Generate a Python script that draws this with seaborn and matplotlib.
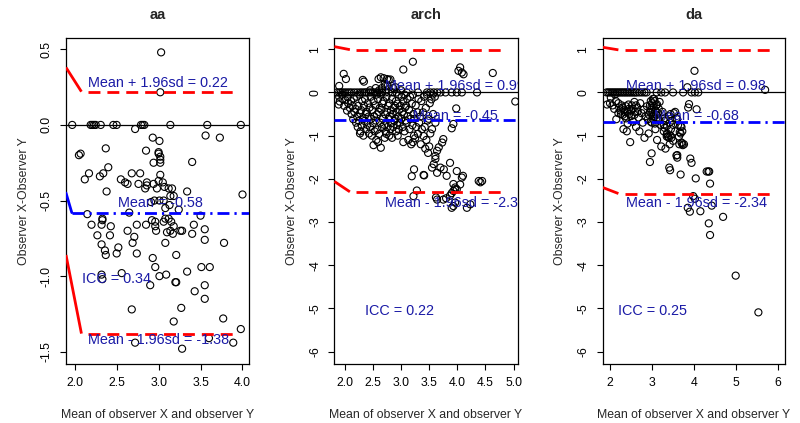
import matplotlib
matplotlib.use("Agg")
import matplotlib.pyplot as plt
import seaborn as sns
import pandas as pd

# Bland-Altman data: (mean of X and Y, X - Y)
aa_pts = [
    (1.97, 0), (2.19, 0), (2.21, 0), (2.23, 0), (2.25, 0), (2.31, 0), (2.46, 0), (2.50, 0),
    (2.79, 0), (2.81, 0), (2.83, 0), (3.14, 0), (3.58, 0), (3.98, 0),
    (3.03, 0.48), (3.02, 0.216), (2.72, -0.027), (3.56, -0.07), (3.73, -0.084), (2.93, -0.084),
    (3.01, -0.106), (2.05, -0.2), (2.07, -0.19), (2.37, -0.155), (3.0, -0.18), (3.0, -0.19),
    (3.02, -0.21), (2.94, -0.25), (3.02, -0.25), (3.02, -0.23), (3.40, -0.245), (2.85, -0.17),
    (2.17, -0.32), (2.12, -0.36), (2.30, -0.34), (2.34, -0.32), (2.40, -0.28), (2.68, -0.32),
    (2.78, -0.32), (2.55, -0.36), (2.60, -0.38), (2.63, -0.39), (2.76, -0.39), (2.86, -0.38),
    (2.86, -0.40), (2.94, -0.39), (3.0, -0.37), (3.02, -0.33), (3.05, -0.38), (3.07, -0.41),
    (3.12, -0.42), (3.16, -0.42), (2.84, -0.42), (2.98, -0.42), (2.38, -0.44), (3.34, -0.44),
    (3.14, -0.47), (3.18, -0.47), (4.0, -0.46), (2.95, -0.5), (3.01, -0.5), (3.06, -0.5),
    (2.91, -0.51), (2.15, -0.59), (3.24, -0.56), (3.13, -0.53), (3.08, -0.55), (3.5, -0.6),
    (2.65, -0.58), (2.20, -0.66), (2.33, -0.62), (2.33, -0.63), (2.32, -0.66), (2.43, -0.67),
    (2.74, -0.66), (2.85, -0.66), (2.92, -0.63), (2.96, -0.64), (2.96, -0.67), (2.97, -0.70),
    (3.08, -0.62), (3.06, -0.64), (3.12, -0.62), (3.15, -0.64), (3.18, -0.67), (2.63, -0.70),
    (2.27, -0.73), (2.42, -0.73), (2.71, -0.74), (2.69, -0.78), (2.32, -0.79), (3.17, -0.72),
    (3.14, -0.70), (3.10, -0.71), (3.26, -0.70), (3.28, -0.70), (3.42, -0.66), (3.40, -0.72),
    (3.55, -0.69), (3.55, -0.76), (3.78, -0.78), (3.08, -0.78), (2.36, -0.83), (2.37, -0.86),
    (2.52, -0.81), (2.50, -0.85), (2.74, -0.85), (3.21, -0.86), (2.93, -0.88), (2.96, -0.94),
    (3.51, -0.94), (3.61, -0.94), (2.56, -0.98), (2.32, -0.99), (2.33, -1.02), (3.01, -1.0),
    (3.09, -0.99), (3.34, -0.97), (2.90, -1.06), (3.20, -1.04), (3.21, -1.04), (3.55, -1.06),
    (3.43, -1.10), (3.55, -1.15), (2.68, -1.22), (3.27, -1.21), (3.18, -1.30), (3.77, -1.28),
    (3.98, -1.35), (3.60, -1.41), (2.72, -1.44), (3.89, -1.44), (3.28, -1.48),
]

arch_pts = [
    # points on the zero line
    (1.86, 0), (1.90, 0), (1.93, 0), (1.96, 0), (2.00, 0), (2.04, 0), (2.08, 0), (2.12, 0),
    (2.17, 0), (2.22, 0), (2.27, 0), (2.31, 0), (2.35, 0), (2.38, 0), (2.42, 0), (2.46, 0),
    (2.50, 0), (2.54, 0), (2.58, 0), (2.62, 0), (2.66, 0), (2.72, 0), (2.78, 0), (2.85, 0),
    (2.92, 0), (3.10, 0), (3.30, 0), (3.46, 0), (3.52, 0), (3.58, 0), (3.64, 0), (3.70, 0),
    (3.79, 0), (3.90, 0), (3.99, 0), (4.08, 0), (4.35, 0),
    # above zero
    (3.21, 0.71), (3.04, 0.53), (4.05, 0.58), (4.02, 0.50), (4.08, 0.46), (4.11, 0.42),
    (4.63, 0.45), (5.03, -0.21), (1.98, 0.43), (1.90, 0.15), (2.02, 0.31), (2.32, 0.29),
    (2.34, 0.25), (2.60, 0.31), (2.64, 0.35), (2.69, 0.33), (2.75, 0.31), (2.78, 0.29),
    (2.72, 0.15), (2.55, 0.10), (2.45, 0.05), (2.90, 0.12), (3.00, 0.05),
    # main cluster
    (1.90, -0.10), (1.91, -0.21), (1.89, -0.28), (1.95, -0.05), (1.96, -0.15), (2.01, -0.18),
    (1.99, -0.31), (2.05, -0.11), (2.06, -0.25), (2.04, -0.42), (2.11, -0.20), (2.09, -0.36),
    (2.12, -0.50), (2.16, -0.14), (2.14, -0.31), (2.17, -0.45), (2.15, -0.62), (2.21, -0.10),
    (2.19, -0.38), (2.22, -0.56), (2.20, -0.70), (2.26, -0.05), (2.24, -0.31), (2.27, -0.48),
    (2.25, -0.66), (2.23, -0.80), (2.27, -0.95), (2.31, -0.20), (2.29, -0.41), (2.32, -0.60),
    (2.30, -0.76), (2.28, -0.90), (2.33, -1.00), (2.36, -0.15), (2.34, -0.31), (2.37, -0.50),
    (2.35, -0.66), (2.38, -0.85), (2.41, -0.25), (2.39, -0.45), (2.42, -0.56), (2.40, -0.75),
    (2.43, -0.95), (2.46, -0.10), (2.44, -0.35), (2.47, -0.61), (2.45, -0.80), (2.48, -1.00),
    (2.51, -0.20), (2.49, -0.41), (2.52, -0.55), (2.50, -0.71), (2.53, -0.90), (2.51, -1.22),
    (2.56, -0.05), (2.54, -0.30), (2.57, -0.51), (2.55, -0.65), (2.58, -0.86), (2.56, -1.10),
    (2.61, 0.05), (2.59, -0.15), (2.62, -0.36), (2.60, -0.45), (2.63, -0.70), (2.61, -0.96),
    (2.59, -1.15), (2.66, 0.10), (2.64, -0.05), (2.67, -0.26), (2.65, -0.40), (2.68, -0.61),
    (2.66, -0.80), (2.64, -1.28), (2.71, 0.20), (2.69, -0.20), (2.72, -0.51), (2.70, -0.75),
    (2.73, -0.91), (2.71, -1.05), (2.76, 0.15), (2.74, -0.10), (2.77, -0.31), (2.75, -0.45),
    (2.78, -0.61), (2.76, -0.80), (2.74, -0.96), (2.81, 0.30), (2.79, -0.25), (2.82, -0.41),
    (2.80, -0.55), (2.83, -0.71), (2.81, -0.85), (2.79, -1.00), (2.86, 0.10), (2.84, -0.15),
    (2.87, -0.36), (2.85, -0.50), (2.88, -0.66), (2.86, -0.80), (2.84, -1.05), (2.91, -0.20),
    (2.89, -0.31), (2.92, -0.45), (2.90, -0.61), (2.93, -0.75), (2.91, -0.90), (2.96, -0.05),
    (2.94, -0.26), (2.97, -0.40), (2.95, -0.56), (2.98, -0.70), (2.96, -0.86), (2.94, -1.00),
    (3.01, -0.10), (2.99, -0.31), (3.02, -0.45), (3.00, -0.61), (3.03, -0.80), (3.06, -0.05),
    (3.04, -0.21), (3.07, -0.35), (3.05, -0.51), (3.08, -0.65), (3.06, -0.90), (3.04, -1.15),
    (3.11, -0.15), (3.09, -0.31), (3.12, -0.55), (3.10, -0.71), (3.13, -1.10), (3.16, -0.10),
    (3.14, -0.40), (3.17, -0.61), (3.15, -0.85), (3.18, -1.20), (3.21, -0.05), (3.19, -0.26),
    (3.22, -0.50), (3.20, -0.76), (3.23, -1.00), (3.21, -1.15), (3.26, -0.30), (3.24, -0.61),
    (3.27, -0.80), (3.25, -1.06), (3.31, -0.15), (3.29, -0.46), (3.32, -0.70), (3.30, -0.96),
    (3.36, -0.20), (3.34, -0.56), (3.37, -0.85), (3.35, -1.20), (3.41, -0.10), (3.39, -0.46),
    (3.42, -0.80), (3.40, -1.01), (3.43, -1.30), (3.46, -0.05), (3.44, -0.36), (3.47, -0.65),
    (3.45, -1.10), (3.48, -1.40), (3.51, -0.25), (3.49, -0.61), (3.52, -0.95), (3.50, -1.25),
    (3.56, -0.05), (3.54, -0.16), (3.57, -0.50), (3.55, -0.85), (3.60, -0.10), (3.61, -0.70),
    # tail going down to the right
    (3.98, -0.37), (3.93, -0.73), (3.90, -0.83), (3.75, -1.08), (3.73, -1.16), (3.67, -1.27),
    (3.64, -1.35), (3.61, -1.47), (3.61, -1.54), (3.58, -1.66), (3.55, -1.74), (3.40, -1.91),
    (3.81, -1.93), (3.93, -2.12), (3.96, -2.20), (4.08, -1.97), (4.38, -2.05), (4.41, -2.08),
    (4.44, -2.05), (3.62, -2.43), (3.80, -2.45), (3.87, -2.39), (3.90, -2.33), (3.93, -2.28),
    (3.96, -2.24), (3.19, -1.94), (3.23, -1.78), (3.41, -1.92), (3.64, -1.86), (3.70, -1.74),
    (3.76, -1.78), (3.87, -1.63), (3.99, -1.82), (4.05, -2.13), (4.10, -1.93), (3.28, -2.27),
    (3.22, -2.40), (3.64, -2.48), (3.75, -2.48), (3.90, -2.67), (3.93, -2.63), (3.96, -2.55),
    (4.17, -2.67), (4.23, -2.59), (3.99, -2.24),
]

da_pts = [
    # points on the zero line
    (1.92, 0), (1.96, 0), (2.00, 0), (2.04, 0), (2.08, 0), (2.12, 0), (2.16, 0), (2.20, 0),
    (2.24, 0), (2.28, 0), (2.32, 0), (2.36, 0), (2.40, 0), (2.44, 0), (2.48, 0), (2.52, 0),
    (2.56, 0), (2.60, 0), (2.64, 0), (2.70, 0), (2.76, 0), (2.82, 0), (2.87, 0), (3.11, 0),
    (3.22, 0), (3.31, 0), (3.50, 0), (3.74, 0), (3.94, 0), (4.02, 0), (4.10, 0),
    # outliers
    (4.01, 0.50), (5.69, 0.06), (3.84, 0.12), (4.06, -0.39), (3.86, -0.35), (3.88, -0.27),
    (3.91, -1.53), (3.94, -1.63), (3.68, -1.90), (4.04, -1.99), (4.30, -1.83), (4.34, -1.83),
    (4.36, -1.83), (4.38, -2.11), (3.98, -2.40), (4.02, -2.46), (3.85, -2.67), (3.90, -2.76),
    (4.15, -2.75), (4.42, -2.62), (4.35, -3.03), (4.38, -3.30), (4.69, -2.88), (4.99, -4.24),
    (5.53, -5.09), (2.95, -1.61), (2.99, -1.41), (2.48, -1.15), (3.41, -1.74), (3.43, -1.80),
    (3.58, -1.46), (3.60, -1.51), (3.70, -1.16), (3.73, -1.22), (3.44, -1.00), (3.46, -1.05),
    (3.35, -0.97), (3.35, -1.02),
    # main cluster
    (1.93, -0.28), (2.00, -0.25), (2.02, -0.12), (2.06, -0.30), (2.10, -0.38), (2.12, -0.05),
    (2.15, -0.62), (2.20, -0.48), (2.22, -0.35), (2.25, -0.42), (2.28, -0.30), (2.30, -0.52),
    (2.32, -0.85), (2.35, -0.45), (2.38, -0.60), (2.40, -0.90), (2.42, -0.72), (2.45, -0.38),
    (2.50, -0.55), (2.52, -0.30), (2.55, -0.68), (2.58, -0.22), (2.60, -0.45), (2.62, -0.80),
    (2.65, -0.35), (2.68, -0.58), (2.70, -0.90), (2.72, -0.25), (2.75, -0.48), (2.78, -0.70),
    (2.80, -0.40), (2.82, -1.05), (2.85, -0.55), (2.88, -0.32), (2.90, -0.62), (2.92, -0.95),
    (2.95, -0.45), (2.97, -0.20), (3.00, -0.70), (3.02, -0.15), (3.05, -0.50), (3.08, -0.85),
    (3.10, -0.30), (3.12, -1.10), (3.15, -0.60), (3.18, -0.22), (3.20, -0.75), (3.22, -1.25),
    (3.25, -0.45), (3.28, -0.90), (3.30, -0.60), (3.32, -1.30), (3.35, -0.78), (3.38, -1.02),
    (3.40, -0.55), (3.42, -1.20), (3.45, -0.85), (3.48, -0.65), (3.50, -1.12), (3.52, -0.48),
    (3.55, -0.90), (3.58, -0.60), (3.60, -1.45), (3.62, -0.75), (3.65, -1.20), (3.68, -0.95),
    (3.70, -0.80), (3.72, -1.18),
    (2.95, -0.30), (2.98, -0.40), (3.00, -0.25), (3.02, -0.55), (3.04, -0.35), (3.06, -0.20),
    (3.08, -0.42), (3.10, -0.60), (3.12, -0.28), (3.14, -0.48), (3.16, -0.38), (3.18, -0.65),
    (3.03, -0.62), (2.93, -0.52), (2.97, -0.68), (3.01, -0.45), (3.07, -0.72), (3.11, -0.52),
    (2.99, -0.32), (3.05, -0.15),
    (2.30, -0.35), (2.34, -0.40), (2.38, -0.32), (2.42, -0.45), (2.46, -0.50), (2.50, -0.42),
    (2.54, -0.38), (2.58, -0.52), (2.62, -0.30), (2.66, -0.44), (2.36, -0.55), (2.44, -0.28),
    (2.26, -0.50), (2.20, -0.25), (2.14, -0.20),
    (3.28, -0.75), (3.30, -0.82), (3.32, -0.65), (3.36, -0.95), (3.40, -1.05), (3.42, -0.70),
    (3.44, -0.50), (3.50, -0.75), (3.55, -0.45), (3.60, -0.62), (3.64, -1.02), (3.66, -0.92),
    (3.68, -0.78), (3.72, -0.90), (3.76, -1.20),
]

# limits of agreement as drawn: upper, mean, lower
aa_limits = [0.22, -0.58, -1.38]
arch_limits = [0.99, -0.635, -2.30]
da_limits = [0.985, -0.68, -2.34]

# short solid lead-in segments at the left edge (value at the axis edge)
aa_lead = [0.38, -0.45, -0.86]
arch_lead = [1.06, None, -2.06]
da_lead = [1.045, None, -2.20]

aa_labels = ["Mean + 1.96sd = 0.22", "Mean = -0.58", "Mean - 1.96sd = -1.38", "ICC = 0.34"]
arch_labels = ["Mean + 1.96sd = 0.99", "Mean = -0.45", "Mean - 1.96sd = -2.30", "ICC = 0.22"]
da_labels = ["Mean + 1.96sd = 0.98", "Mean = -0.68", "Mean - 1.96sd = -2.34", "ICC = 0.25"]

titles = ["aa", "arch", "da"]

sns.set_theme(style="ticks")
plt.rcParams["font.family"] = ["Liberation Sans", "DejaVu Sans"]

fig = plt.figure(figsize=(8, 4.23), dpi=100)

# layout per panel: axes rect, xlim, ylim, xticks, yticks, label positions, line spans
layout = [
    dict(rect=[0.0825, 0.1395, 0.229, 0.7707], xlim=(1.896, 4.08), ylim=(-1.581, 0.575),
         xticks=[2.0, 2.5, 3.0, 3.5, 4.0], yticks=[-1.5, -1.0, -0.5, 0.0, 0.5], fmt="{:.1f}",
         xfmt="{:.1f}", lead_end=2.08, dash=(2.16, 3.93), mean_start=1.965,
         text=[(2.16, 0.278), (2.51, -0.516), (2.16, -1.42), (2.09, -1.018)]),
    dict(rect=[0.418, 0.1395, 0.229, 0.7707], xlim=(1.815, 5.071), ylim=(-6.285, 1.26),
         xticks=[2.0, 2.5, 3.0, 3.5, 4.0, 4.5, 5.0], yticks=[-6, -5, -4, -3, -2, -1, 0, 1],
         fmt="{:.0f}", xfmt="{:.1f}", lead_end=2.09, dash=(2.2, 4.85), mean_start=1.815,
         text=[(2.717, 0.14), (3.22, -0.555), (2.717, -2.55), (2.36, -5.06)]),
    dict(rect=[0.7534, 0.1395, 0.228, 0.7707], xlim=(1.827, 6.166), ylim=(-6.285, 1.26),
         xticks=[2, 3, 4, 5, 6], yticks=[-6, -5, -4, -3, -2, -1, 0, 1],
         fmt="{:.0f}", xfmt="{:.0f}", lead_end=2.2, dash=(2.36, 5.87), mean_start=1.827,
         text=[(2.37, 0.14), (3.05, -0.555), (2.37, -2.55), (2.2, -5.06)]),
]

all_pts = [aa_pts, arch_pts, da_pts]
all_limits = [aa_limits, arch_limits, da_limits]
all_leads = [aa_lead, arch_lead, da_lead]
all_labels = [aa_labels, arch_labels, da_labels]

red = "#ff0000"
blue = "#0000ff"
text_blue = "#1a1aa6"
dashed = (0, (4.3, 2.5))
dotdash = (0, (4.3, 1.8, 0.8, 1.8))

for i, lay in enumerate(layout):
    ax = fig.add_axes(lay["rect"])
    df = pd.DataFrame(all_pts[i], columns=["mean_xy", "diff_xy"])
    upper, mean, lower = all_limits[i]
    lead = all_leads[i]
    x0, x1 = lay["xlim"]

    ax.axhline(0, color="black", lw=0.9, zorder=1)
    sns.scatterplot(data=df, x="mean_xy", y="diff_xy", ax=ax, marker="o",
                    facecolor="none", edgecolor="black", linewidth=0.8, s=26, zorder=2)

    # limits of agreement
    for val, ld in [(upper, lead[0]), (lower, lead[2])]:
        ax.plot([x0, lay["lead_end"]], [ld, val], color=red, lw=2, solid_capstyle="butt", zorder=3)
        ax.plot(list(lay["dash"]), [val, val], color=red, lw=2, linestyle=dashed,
                dash_capstyle="butt", zorder=3)
    if lead[1] is not None:
        ax.plot([x0, lay["mean_start"]], [lead[1], mean], color=blue, lw=2, zorder=3)
    ax.plot([lay["mean_start"], x1], [mean, mean], color=blue, lw=2, linestyle=dotdash,
            dash_capstyle="butt", zorder=3)

    for (tx, ty), lab in zip(lay["text"], all_labels[i]):
        ax.text(tx, ty, lab, color=text_blue, fontsize=10.4, ha="left", va="center",
                clip_on=True, zorder=4)

    ax.set_xlim(lay["xlim"])
    ax.set_ylim(lay["ylim"])
    ax.set_xticks(lay["xticks"])
    ax.set_xticklabels([lay["xfmt"].format(v) for v in lay["xticks"]])
    ax.set_yticks(lay["yticks"])
    ax.set_yticklabels([lay["fmt"].format(v) for v in lay["yticks"]], rotation=90, va="center")
    ax.tick_params(axis="both", labelsize=8.8, length=4.5, width=0.8, pad=5, colors="black")
    for sp in ax.spines.values():
        sp.set_color("black")
        sp.set_linewidth(0.9)
    ax.set_xlabel("Mean of observer X and observer Y", fontsize=8.8, labelpad=14)
    ax.set_ylabel("Observer X-Observer Y", fontsize=8.8, labelpad=8)
    ax.set_title(titles[i], fontsize=10.5, fontweight="bold", pad=14)

fig.savefig("out.png", dpi=100, facecolor="white")
